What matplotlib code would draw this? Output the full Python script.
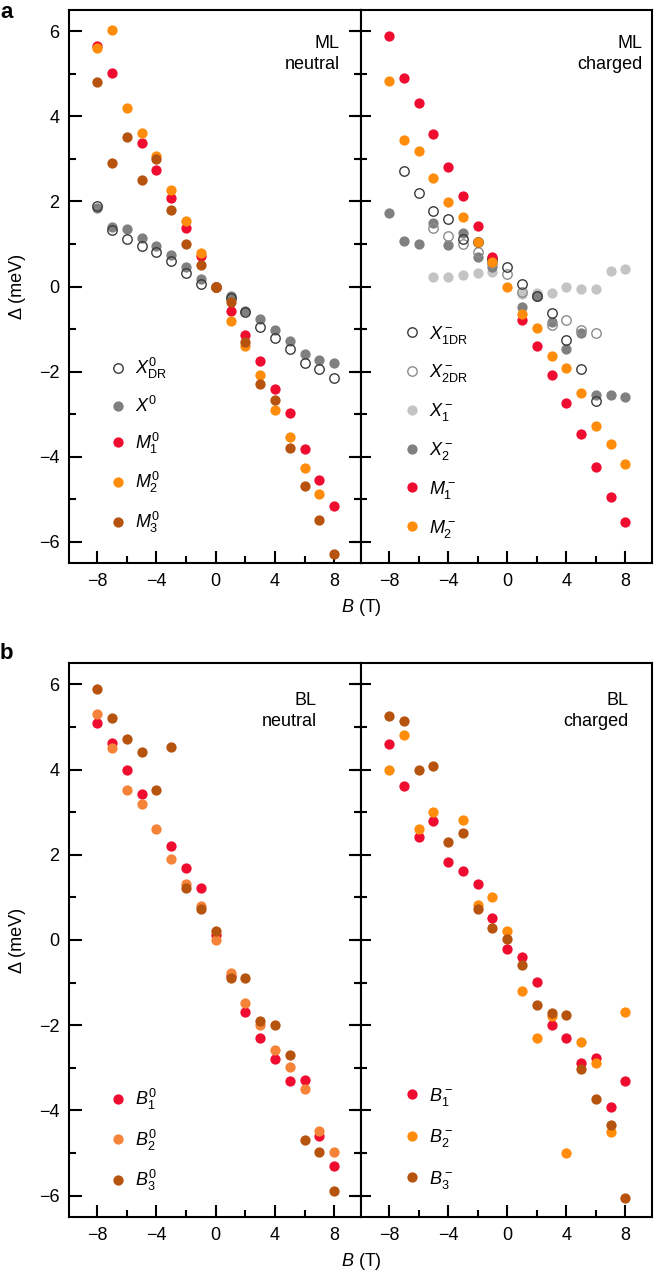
import numpy as np
import matplotlib
matplotlib.use("Agg")
import matplotlib.pyplot as plt

plt.rcParams['font.family'] = ['Liberation Sans', 'DejaVu Sans']
plt.rcParams['mathtext.fontset'] = 'custom'
plt.rcParams['mathtext.rm'] = 'Liberation Sans'
plt.rcParams['mathtext.it'] = 'Liberation Sans:italic'
plt.rcParams['font.size'] = 13

nan = np.nan
B = np.arange(-8, 9)

# panel a, ML neutral
XDR0 = [1.9, 1.33, 1.11, 0.96, 0.8, 0.59, 0.32, 0.05, 0.0, -0.27, -0.6, -0.95, -1.2, -1.48, -1.81, -1.94, -2.14]
X0 = [1.84, 1.41, 1.34, 1.13, 0.96, 0.74, 0.45, 0.18, 0.0, -0.23, -0.57, -0.76, -1.03, -1.28, -1.58, -1.73, -1.8]
M1_0 = [5.65, 5.02, nan, 3.38, 2.73, 2.08, 1.38, 0.71, 0.0, -0.58, -1.13, -1.76, -2.4, -2.98, -3.81, -4.55, -5.16]
M2_0 = [5.6, 6.02, 4.2, 3.62, 3.07, 2.27, 1.53, 0.79, 0.0, -0.8, -1.41, -2.09, -2.91, -3.53, -4.26, -4.875, nan]
M3_0 = [4.8, 2.9, 3.52, 2.5, 3.0, 1.8, 1.0, 0.5, 0.0, -0.37, -1.3, -2.3, -2.67, -3.8, -4.7, -5.48, -6.3]

# panel a, ML charged
X1DR = [nan, 2.72, 2.2, 1.78, 1.59, 1.12, 1.04, 0.65, 0.47, 0.05, -0.22, -0.62, -1.25, -1.93, -2.69, nan, nan]
X2DR = [nan, nan, nan, 1.38, 1.18, 1.0, 0.8, 0.55, 0.3, -0.13, -0.22, -0.91, -0.78, -1.02, -1.09, nan, nan]
X1m = [nan, nan, nan, 0.22, 0.22, 0.27, 0.31, 0.35, nan, -0.17, -0.15, -0.15, 0.0, -0.05, -0.07, 0.37, 0.41]
X2m = [1.73, 1.06, 1.0, 1.49, 0.98, 1.25, 0.7, 0.45, nan, -0.48, -0.22, -0.84, -1.46, -1.09, -2.55, -2.55, -2.59]
M1m = [5.9, 4.91, 4.32, 3.59, 2.8, 2.12, 1.43, 0.69, nan, -0.78, -1.4, -2.08, -2.73, -3.47, -4.25, -4.95, -5.54]
M2m = [4.83, 3.44, 3.19, 2.55, 1.99, 1.63, 1.04, 0.57, 0.0, -0.64, -0.97, -1.63, -1.91, -2.5, -3.27, -3.7, -4.17]

# panel b, BL neutral
B1_0 = [5.1, 4.62, 4.0, 3.42, nan, 2.21, 1.7, 1.21, 0.12, -0.85, -1.7, -2.29, -2.8, -3.3, -3.28, -4.61, -5.3]
B2_0 = [5.3, 4.5, 3.52, 3.2, 2.6, 1.9, 1.31, 0.8, 0.0, -0.78, -1.48, -1.99, -2.59, -2.99, -3.5, -4.49, -4.98]
B3_0 = [5.9, 5.2, 4.71, 4.4, 3.51, 4.52, 1.21, 0.72, 0.22, -0.9, -0.9, -1.89, -1.99, -2.7, -4.69, -4.98, -5.9]

# panel b, BL charged
B1m = [4.61, 3.61, 2.41, 2.8, 1.82, 1.63, 1.31, 0.52, -0.2, -0.39, -0.99, -1.99, -2.29, -2.89, -2.77, -3.91, -3.3]
B2m = [4.0, 4.8, 2.6, 3.0, nan, 2.81, 0.82, 1.0, 0.22, -1.2, -2.29, -1.78, -5.0, -2.4, -2.89, -4.51, -1.7]
B3m = [5.26, 5.13, 4.0, 4.09, 2.3, 2.5, 0.72, 0.29, 0.02, -0.59, -1.52, -1.72, -1.76, -3.03, -3.73, -4.34, -6.05]

red = '#f00c30'
orange = '#ff8c0a'
orange_b = '#f5843a'
brown = '#b5530f'
grey = '#808080'
lgrey = '#c4c4c4'

ms = 7.4


def dots(ax, y, color, label):
    return ax.plot(B, y, 'o', ms=ms, color=color, mec='none', label=label)[0]


def rings(ax, y, color, label):
    return ax.plot(B, y, 'o', ms=ms - 0.6, mfc='none', mec=color, mew=1.0, label=label)[0]


def style(ax, right):
    ax.set_xlim(-9.9, 9.8)
    ax.set_ylim(-6.5, 6.5)
    ax.set_xticks([-8, -4, 0, 4, 8])
    ax.set_xticks(np.arange(-8, 9, 2), minor=True)
    ax.set_yticks([-6, -4, -2, 0, 2, 4, 6])
    ax.set_yticks(np.arange(-6, 7, 1), minor=True)
    ax.set_xticklabels(['\u22128', '\u22124', '0', '4', '8'])
    for s in ax.spines.values():
        s.set_linewidth(1.5)
    ax.tick_params(axis='x', which='both', direction='in', top=False, width=1.5, pad=7)
    ax.tick_params(axis='x', which='major', length=9)
    ax.tick_params(axis='x', which='minor', length=5)
    if right:
        ax.tick_params(axis='y', which='both', direction='inout', left=True, right=False,
                       labelleft=False, width=1.5)
        ax.tick_params(axis='y', which='major', length=14)
        ax.tick_params(axis='y', which='minor', length=9)
    else:
        ax.tick_params(axis='y', which='both', direction='in', left=True, right=True, width=1.5, pad=7)
        ax.set_yticklabels(['\u22126', '\u22124', '\u22122', '0', '2', '4', '6'])
        ax.tick_params(axis='y', which='major', length=9)
        ax.tick_params(axis='y', which='minor', length=5)


def leg(ax, handles, x, y, sp):
    ax.legend(handles=handles, loc='upper left', bbox_to_anchor=(x, y), frameon=False,
              borderpad=0, borderaxespad=0, handlelength=1.0, handletextpad=0.45,
              labelspacing=sp, fontsize=13)


fig = plt.figure(figsize=(6.57, 12.8), dpi=100)
W = 657.0
H = 1280.0
axa1 = fig.add_axes([69 / W, 1 - 563 / H, 292 / W, 553 / H])
axa2 = fig.add_axes([361 / W, 1 - 563 / H, 291 / W, 553 / H])
axb1 = fig.add_axes([69 / W, 1 - 1217 / H, 292 / W, 554 / H])
axb2 = fig.add_axes([361 / W, 1 - 1217 / H, 291 / W, 554 / H])

# a, neutral
h_x0 = dots(axa1, X0, grey, r'$X^0$')
h_xdr = rings(axa1, XDR0, '#3a3a3a', r'$X^0_{\mathrm{DR}}$')
h_m1 = dots(axa1, M1_0, red, r'$M^0_1$')
h_m2 = dots(axa1, M2_0, orange, r'$M^0_2$')
h_m3 = dots(axa1, M3_0, brown, r'$M^0_3$')
leg(axa1, [h_xdr, h_x0, h_m1, h_m2, h_m3], 0.137, 0.374, 0.81)
axa1.text(0.928, 0.955, 'ML\nneutral', transform=axa1.transAxes, ha='right', va='top',
          multialignment='right', linespacing=1.3)

# a, charged
h_x1 = dots(axa2, X1m, lgrey, r'$X^-_1$')
h_x2 = dots(axa2, X2m, grey, r'$X^-_2$')
h_x2dr = rings(axa2, X2DR, '#8c8c8c', r'$X^-_{\mathrm{2DR}}$')
h_x1dr = rings(axa2, X1DR, '#3a3a3a', r'$X^-_{\mathrm{1DR}}$')
h_m1m = dots(axa2, M1m, red, r'$M^-_1$')
h_m2m = dots(axa2, M2m, orange, r'$M^-_2$')
leg(axa2, [h_x1dr, h_x2dr, h_x1, h_x2, h_m1m, h_m2m], 0.144, 0.433, 0.93)
axa2.text(0.969, 0.955, 'ML\ncharged', transform=axa2.transAxes, ha='right', va='top',
          multialignment='right', linespacing=1.3)

# b, neutral
h_b1 = dots(axb1, B1_0, red, r'$B^0_1$')
h_b2 = dots(axb1, B2_0, orange_b, r'$B^0_2$')
h_b3 = dots(axb1, B3_0, brown, r'$B^0_3$')
leg(axb1, [h_b1, h_b2, h_b3], 0.137, 0.235, 0.86)
axb1.text(0.849, 0.948, 'BL\nneutral', transform=axb1.transAxes, ha='right', va='top',
          multialignment='right', linespacing=1.3)

# b, charged
h_b1m = dots(axb2, B1m, red, r'$B^-_1$')
h_b2m = dots(axb2, B2m, orange, r'$B^-_2$')
h_b3m = dots(axb2, B3m, brown, r'$B^-_3$')
leg(axb2, [h_b1m, h_b2m, h_b3m], 0.144, 0.237, 1.08)
axb2.text(0.918, 0.948, 'BL\ncharged', transform=axb2.transAxes, ha='right', va='top',
          multialignment='right', linespacing=1.3)

for ax, r in [(axa1, False), (axa2, True), (axb1, False), (axb2, True)]:
    style(ax, r)

for yc, yl in [(286.5, 608), (940, 1262)]:
    fig.text(18 / W, 1 - yc / H, '\u0394 (meV)', rotation=90, ha='center', va='center')
    fig.text(361 / W, 1 - yl / H, r'$B$ (T)', ha='center', va='center')

fig.text(0.0, 1 - 2 / H, 'a', fontweight='bold', fontsize=16, va='top', ha='left')
fig.text(0.0, 1 - 643 / H, 'b', fontweight='bold', fontsize=16, va='top', ha='left')

fig.savefig('out.png', dpi=100)
